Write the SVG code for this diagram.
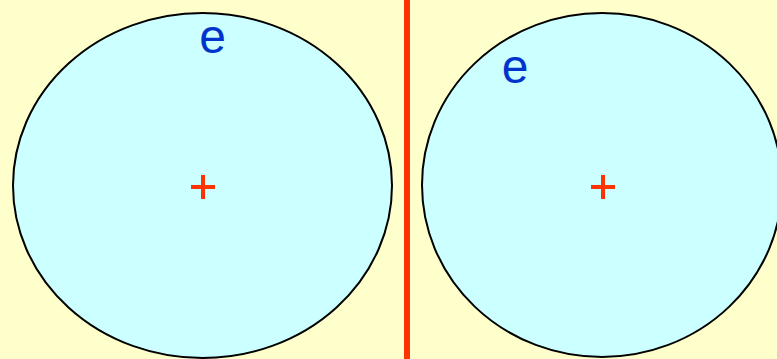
<svg xmlns="http://www.w3.org/2000/svg" width="777" height="359" viewBox="0 0 777 359">
<style>
.orb{fill:#CCFFFF;stroke:#000;stroke-width:2}
.e{font-family:"Liberation Sans",Arial,sans-serif;font-size:48px;fill:#0033CC;text-anchor:middle}
.plus{stroke:#FF3300;stroke-width:4;fill:none}
</style>
<rect x="0" y="0" width="777" height="359" fill="#FFFFCC"/>
<g id="left-atom">
<ellipse class="orb" cx="202.5" cy="185.5" rx="189.5" ry="172.5"/>
<path class="plus" d="M191 187H215M203 175V199"/>
<text class="e" x="212.5" y="53">e</text>
</g>
<g id="divider">
<line x1="407" y1="0" x2="407" y2="359" stroke="#FF3300" stroke-width="6"/>
</g>
<g id="right-atom">
<ellipse class="orb" cx="602" cy="185" rx="180" ry="172"/>
<path class="plus" d="M591 187H615M603 175V199"/>
<text class="e" x="515" y="82.5">e</text>
</g>
</svg>
